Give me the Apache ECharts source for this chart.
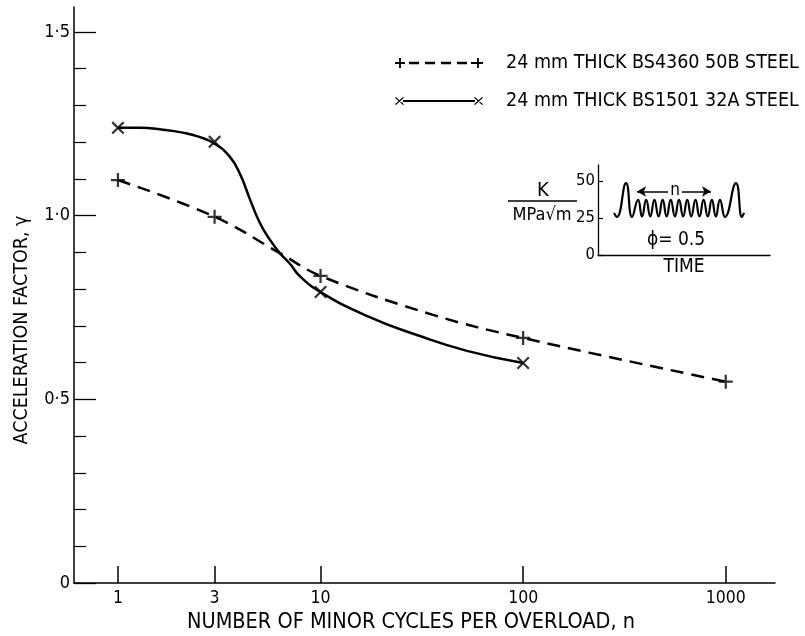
<!DOCTYPE html>
<html>
<head>
<meta charset="utf-8">
<script src="https://cdn.jsdelivr.net/npm/echarts@6/dist/echarts.min.js"></script>
<style>
html,body{margin:0;padding:0;background:#fff;}
#c{width:805px;height:636px;}
</style>
</head>
<body>
<div id="c"></div>
<script>
// ---- axis ticks / labels ----
const xTicks = [1, 3, 10, 100, 1000];
const yMajorTicks = [0, 0.5, 1.0, 1.5];
const yMinorTicks = [0.1, 0.2, 0.3, 0.4, 0.6, 0.7, 0.8, 0.9, 1.1, 1.2, 1.3, 1.4];
const yTickLabels = ['0', '0·5', '1·0', '1·5'];

// ---- series names ----
const name50B = '24 mm THICK BS4360 50B STEEL';
const name32A = '24 mm THICK BS1501 32A STEEL';

// ---- measured points (markers) ----
const n50B = [1, 3, 10, 100, 1000];
const gamma50B = [1.097, 0.997, 0.836, 0.667, 0.548];
const n32A = [1, 3, 10, 100];
const gamma32A = [1.239, 1.201, 0.792, 0.599];

// ---- drawn curves, read along the lines of the picture ----
const curve50B_n = [1, 3, 6.3, 10, 35.9, 100, 1000];
const curve50B_g = [1.097, 0.997, 0.898, 0.836, 0.730, 0.667, 0.548];
const curve32A_n = [1, 1.28, 1.67, 2.09, 2.5, 3, 3.57, 4.0, 4.48, 5.02, 5.63, 6.3, 7.06, 7.91, 10, 16.9, 29.9, 52.8, 100];
const curve32A_g = [1.239, 1.239, 1.234, 1.226, 1.215, 1.196, 1.160, 1.114, 1.045, 0.980, 0.934, 0.898, 0.869, 0.835, 0.792, 0.727, 0.675, 0.632, 0.599];

// ---- inset: loading waveform (K in MPa√m vs time) ----
const insetTicks = [0, 25, 50];
const insetT = [9.3, 11.0, 16.3, 19.8, 23.3, 25.6, 28.0, 30.4, 32.8, 35.2, 37.6, 39.9, 42.3, 44.7, 47.1, 49.5, 51.9, 54.2, 56.7, 59.0, 61.4, 63.8, 66.2, 68.5, 70.9, 73.8, 80.2, 83.7, 84.9];
const insetK = [28.4, 25.7, 48.6, 25.7, 37.2, 26.0, 37.2, 26.0, 37.2, 26.0, 37.2, 26.0, 37.2, 26.0, 37.2, 26.0, 37.2, 26.0, 37.2, 26.0, 37.2, 26.0, 37.2, 26.0, 37.2, 25.7, 48.6, 25.7, 28.4];

const FONT = "'DejaVu Sans Condensed', 'Liberation Sans Narrow', 'DejaVu Sans', sans-serif";
const zip = (a, b) => a.map((v, i) => [v, b[i]]);

const plusPath = 'path://M0,4.2h10v1.6h-10z M4.2,0h1.6v10h-1.6z';
const crossPath = 'path://M0,1.2L1.2,0L10,8.8L8.8,10Z M0,8.8L8.8,0L10,1.2L1.2,10Z';
const legendPlus = 'path://M0,4.1h10v1.8h-10z M4.1,0h1.8v10h-1.8z M14,3.8h10v2.4h-10z M30,3.8h10v2.4h-10z M46,3.8h10v2.4h-10z M62,3.8h10v2.4h-10z M76,4.1h12v1.8h-12z M82.1,0h1.8v10h-1.8z';
const legendCross = 'path://M0,1.8L0.9,1L9,8.2L8.1,9Z M0,8.2L8.1,1L9,1.8L0.9,9Z M8,4h72v2h-72z M79,1.8L79.9,1L88,8.2L87.1,9Z M79,8.2L87.1,1L88,1.8L79.9,9Z';

const chart = echarts.init(document.getElementById('c'), null, {renderer: 'canvas'});
const option = {
  backgroundColor: '#fff',
  animation: false,
  textStyle: {fontFamily: FONT, color: '#000'},
  grid: [
    {left: 74, right: 30, top: 7, bottom: 53, outerBoundsMode: 'none', containLabel: false},
    {left: 598, top: 165, width: 172, height: 90, outerBoundsMode: 'none', containLabel: false}
  ],
  legend: {
    orient: 'vertical', left: 390, top: 48,
    itemWidth: 88, itemHeight: 10, itemGap: 18,
    symbolKeepAspect: true,
    data: [{name: name50B, icon: legendPlus}, {name: name32A, icon: legendCross}],
    itemStyle: {color: '#000', borderWidth: 0},
    textStyle: {fontFamily: FONT, fontSize: 19.5, color: '#000', padding: [0, 0, 0, 18], lineHeight: 20},
    selectedMode: false
  },
  xAxis: [
    {
      type: 'log', logBase: 10, gridIndex: 0, min: 0.607, max: 1750,
      name: 'NUMBER OF MINOR CYCLES PER OVERLOAD, n',
      nameLocation: 'middle', nameGap: 26,
      nameTextStyle: {fontFamily: FONT, fontSize: 21.5, color: '#000', padding: [0, 27, 0, 0]},
      axisLine: {show: true, lineStyle: {color: '#000', width: 1.5}},
      axisTick: {show: true, inside: true, length: 17, customValues: xTicks, lineStyle: {color: '#000', width: 1.5}},
      axisLabel: {show: true, customValues: xTicks, margin: 6, fontFamily: FONT, fontSize: 17.5, color: '#000',
                  formatter: v => String(Math.round(v))},
      splitLine: {show: false}, minorTick: {show: false}
    },
    {
      type: 'value', gridIndex: 1, min: 0, max: 100,
      name: 'TIME', nameLocation: 'middle', nameGap: 3,
      nameTextStyle: {fontFamily: FONT, fontSize: 19, color: '#000'},
      axisLine: {show: true, lineStyle: {color: '#000', width: 1.3}},
      axisTick: {show: false}, axisLabel: {show: false}, splitLine: {show: false}
    }
  ],
  yAxis: [
    {
      type: 'value', gridIndex: 0, min: 0, max: 1.568, position: 'left',
      name: 'ACCELERATION FACTOR, γ',
      nameLocation: 'middle', nameGap: 42,
      nameTextStyle: {fontFamily: FONT, fontSize: 19.5, color: '#000', padding: [0, 70, 0, 0]},
      axisLine: {show: true, lineStyle: {color: '#000', width: 1.5}},
      axisTick: {show: true, inside: true, length: 22, customValues: yMajorTicks, lineStyle: {color: '#000', width: 1.3}},
      axisLabel: {show: true, customValues: yMajorTicks, margin: 4, fontFamily: FONT, fontSize: 18, color: '#000',
                  formatter: v => yTickLabels[yMajorTicks.findIndex(t => Math.abs(t - v) < 1e-6)]},
      splitLine: {show: false}
    },
    {
      type: 'value', gridIndex: 0, min: 0, max: 1.568, position: 'left', offset: 0,
      axisLine: {show: false},
      axisTick: {show: true, inside: true, length: 12, customValues: yMinorTicks, lineStyle: {color: '#000', width: 1.2}},
      axisLabel: {show: false}, splitLine: {show: false}
    },
    {
      type: 'value', gridIndex: 1, min: 0, max: 60.8, position: 'left',
      axisLine: {show: true, lineStyle: {color: '#000', width: 1.3}},
      axisTick: {show: true, inside: true, length: 5, customValues: insetTicks, lineStyle: {color: '#000', width: 1.2}},
      axisLabel: {show: true, customValues: insetTicks, margin: 3, fontFamily: FONT, fontSize: 16.5, color: '#000'},
      splitLine: {show: false}
    }
  ],
  series: [
    {
      name: name50B, type: 'line', xAxisIndex: 0, yAxisIndex: 0,
      data: zip(curve50B_n, curve50B_g), smooth: 0.4, symbol: 'none',
      lineStyle: {color: '#000', width: 2.5, type: [13, 8]}, itemStyle: {color: '#000'}, silent: true
    },
    {
      name: name32A, type: 'line', xAxisIndex: 0, yAxisIndex: 0,
      data: zip(curve32A_n, curve32A_g), smooth: 0.5, symbol: 'none',
      lineStyle: {color: '#000', width: 2.5}, itemStyle: {color: '#000'}, silent: true
    },
    {
      name: 'pts50B', type: 'scatter', xAxisIndex: 0, yAxisIndex: 0,
      data: zip(n50B, gamma50B), symbol: plusPath, symbolSize: 14,
      itemStyle: {color: '#000', borderWidth: 0}, silent: true
    },
    {
      name: 'pts32A', type: 'scatter', xAxisIndex: 0, yAxisIndex: 0,
      data: zip(n32A, gamma32A), symbol: crossPath, symbolSize: 13,
      itemStyle: {color: '#000', borderWidth: 0}, silent: true
    },
    {
      name: 'waveform', type: 'line', xAxisIndex: 1, yAxisIndex: 2,
      data: zip(insetT, insetK), smooth: 0.5, symbol: 'none',
      lineStyle: {color: '#000', width: 2.2}, silent: true,
      markLine: {
        silent: true, symbol: ['none', 'arrow'], symbolSize: [8, 9],
        label: {show: false},
        lineStyle: {color: '#000', width: 1.5, type: 'solid'},
        data: [
          [{coord: [40.7, 42.9]}, {coord: [22.7, 42.9]}],
          [{coord: [48.8, 42.9]}, {coord: [65.7, 42.9]}]
        ]
      }
    }
  ],
  graphic: [
    {type: 'text', x: 543, y: 191, style: {text: 'K', font: "20px " + FONT, fill: '#000', textAlign: 'center', textVerticalAlign: 'middle'}},
    {type: 'line', shape: {x1: 508, y1: 201, x2: 577, y2: 201}, style: {stroke: '#000', lineWidth: 1.6}},
    {type: 'text', x: 542, y: 215, style: {text: 'MPa√m', font: "18px " + FONT, fill: '#000', textAlign: 'center', textVerticalAlign: 'middle'}},
    {type: 'text', x: 675, y: 191, style: {text: 'n', font: "17px " + FONT, fill: '#000', textAlign: 'center', textVerticalAlign: 'middle'}},
    {type: 'text', x: 676, y: 240, style: {text: 'ϕ= 0.5', font: "19px " + FONT, fill: '#000', textAlign: 'center', textVerticalAlign: 'middle'}}
  ]
};
chart.setOption(option);
</script>
</body>
</html>
